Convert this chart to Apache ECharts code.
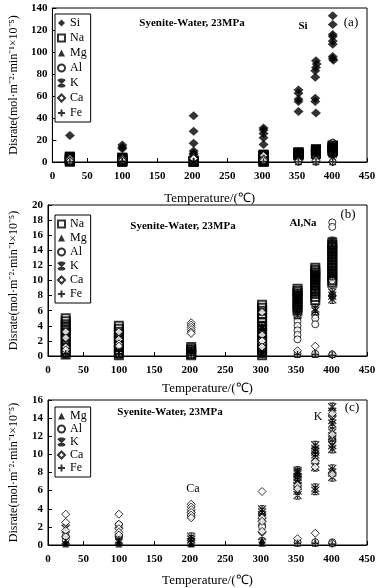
<!DOCTYPE html>
<html><head><meta charset="utf-8">
<script src="https://cdn.jsdelivr.net/npm/echarts@6/dist/echarts.min.js"></script>
<style>html,body{margin:0;padding:0;background:#fff}#c{width:382px;height:588px}</style>
</head><body><div id="c"></div>
<script>
// ---- data (x = temperature ℃, y = dissolution rate ×10^-5) ----
var xTicks = [0, 450, 50];
var yRangeA = [0, 140, 20], yRangeB = [0, 20, 2], yRangeC = [0, 16, 2];
var panelA = 'Si', panelB = 'Al,Na', panelC1 = 'Ca', panelC2 = 'K';
var subtitle = 'Syenite-Water, 23MPa';
var xName = 'Temperature/(℃)';
var yName = 'Disrate(mol·m⁻²·min⁻¹×10⁻⁵)';

var si = [[25,24],[100,15.5],[100,13.5],[100,12],
 [202,42],[202,28],[202,17],[202,10],[202,8],[202,6.5],[202,3.6],[202,1],
 [302,31],[302,29],[302,26],[302,22],[302,16],
 [352,65.5],[352,62.5],[352,57],[352,55],[352,46],
 [377,92],[378,89],[377,86],[376,83],[376,77],[376,58],[376,55],[377,44.5],
 [401,133],[401,125],[401,116],[401,114],[401,110],[401,107],[401,96],[401,94],[402,92.5]];
var na = [[25,5.0],[25,4.6],[25,4.2],[25,3.8],[25,3.4],[25,3.0],[25,2.6],[25,2.2],[25,1.8],[25,1.4],[25,1.0],[25,0.6],[25,0.2],
 [100,4.0],[100,3.6],[100,3.2],[100,2.8],[100,2.4],[100,2.0],[100,1.6],[100,1.2],[100,0.8],[100,0.4],[100,0.1],
 [202,1.2],[202,0.9],[202,0.6],[202,0.3],[202,0.1],
 [302,6.8],[302,6.4],[302,6.0],[302,5.5],[302,5.0],[302,4.5],[302,4.0],[302,3.5],[302,3.0],[302,2.5],[302,2.0],[302,1.5],[302,1.0],[302,0.5],[302,0.1],
 [352,8.9],[352,8.6],[352,8.3],[352,8.0],[352,7.6],[352,7.2],[352,6.8],[352,6.4],[352,6.0],
 [377,11.7],[377,11.4],[377,11.1],[377,10.8],[377,10.5],[377,10.2],[377,9.8],[377,9.4],[377,9.0],[377,8.6],[377,8.2],[377,7.8],[377,7.4],
 [401,15.0],[401,14.7],[401,14.4],[401,14.0],[401,13.6],[401,13.2],[401,12.8],[401,12.4],[401,12.0],[401,11.6],[401,11.2],[401,10.8],[401,10.4],[401,10.0],[401,9.7]];
var mg = [[25,0.1],[25,0.3],[100,0.1],[100,0.3],[202,0.1],[302,0.2],[302,0.5],[352,0.2],[352,0.5],[377,0.2],[377,0.5],[401,0.2],[401,0.4]];
var alB = [[25,0.8],[25,0.4],[100,0.3],[202,0.1],[302,2.0],[302,1.5],
 [352,5.2],[352,4.6],[352,4.0],[352,3.4],[352,2.8],[352,2.2],[352,0.3],
 [377,5.4],[377,5.0],[377,4.2],[377,0.3],[401,17.7],[401,17.1],[401,10.0],[401,8.0],[401,0.2]];
var alC = [[25,1.0],[25,0.6],[100,2.2],[100,0.8],[202,3.6],[202,3.2],[302,2.2],[302,2.0],
 [352,0.3],[377,0.3],[401,11.8],[401,11.5],[401,0.3]];
var k = [[25,0.5],[25,1.8],[100,0.5],[100,1.5],[202,0.9],[202,0.6],[202,0.3],
 [302,3.9],[302,3.6],[302,3.3],[302,3.0],[302,1.0],
 [352,8.2],[352,8.0],[352,7.8],[352,7.5],[352,7.2],[352,6.9],[352,6.5],[352,6.0],[352,5.5],
 [377,11.0],[377,10.6],[377,10.3],[377,10.0],[377,9.7],[377,8.6],[377,6.3],[377,6.0],
 [401,15.2],[401,14.7],[401,13.8],[401,13.4],[401,12.4],[401,12.0],[401,11.0],[401,10.6],[401,8.4],[401,8.0],[401,7.5]];
var caB = [[25,3.2],[25,2.4],[25,1.2],[25,0.8],[100,3.2],[100,2.2],[100,1.6],[100,1.3],
 [202,4.4],[202,4.1],[202,3.8],[202,3.5],[202,3.2],[202,3.0],
 [302,5.8],[302,2.8],[302,2.0],[302,1.2],[352,0.7],[377,1.3],[401,0.2]];
var caC = [[25,3.4],[25,2.5],[25,1.6],[25,0.9],[100,3.4],[100,2.3],[100,1.8],[100,1.4],[100,1.1],
 [202,4.5],[202,4.2],[202,3.9],[202,3.6],[202,3.3],[202,3.0],
 [302,5.9],[302,3.0],[302,2.6],[302,1.5],[352,6.6],[352,6.2],[352,0.7],
 [377,9.2],[377,8.6],[377,1.3],[401,14.5],[401,12.2],[401,7.8],[401,0.2]];
var fe = [[25,0.3],[100,0.3],[100,0.6],[202,0.7],[202,0.4],[302,0.3],[352,0.2],[377,0.2],[401,0.1]];

// ---- styling ----
var serif = 'Liberation Serif';
var kPath = 'path://M0,0L10,10M10,0L0,10M5,0L5,10M2,0L8,0M2,10L8,10';
var plusPath = 'path://M0,5L10,5M5,0L5,10';
var styles = {
  Si: {symbol:'diamond', symbolSize:[10,9], itemStyle:{color:'#000'}},
  Na: {symbol:'rect', symbolSize:8, itemStyle:{color:'rgba(0,0,0,0)', borderColor:'#000', borderWidth:2}},
  Mg: {symbol:'triangle', symbolSize:7, itemStyle:{color:'#000'}},
  Al: {symbol:'circle', symbolSize:7, itemStyle:{color:'#fff', borderColor:'#000', borderWidth:1}},
  K:  {symbol:kPath, symbolSize:8, itemStyle:{color:'rgba(0,0,0,0)', borderColor:'#000', borderWidth:1.3}},
  Ca: {symbol:'diamond', symbolSize:8, itemStyle:{color:'#fff', borderColor:'#000', borderWidth:1}},
  Fe: {symbol:plusPath, symbolSize:7, itemStyle:{color:'rgba(0,0,0,0)', borderColor:'#000', borderWidth:1.6}}
};
function mk(name, data, gi){
  return Object.assign({type:'scatter', name:name, data:data, xAxisIndex:gi, yAxisIndex:gi,
    animation:false, emphasis:{disabled:true}, silent:true}, styles[name]);
}
var grids = [{top:8, height:154}, {top:205, height:151}, {top:400, height:148}];
var xGaps = [30, 26, 29];
function xAxis(i){
  return {gridIndex:i, type:'value', min:xTicks[0], max:xTicks[1], interval:xTicks[2],
    name:xName, nameLocation:'middle', nameGap:xGaps[i],
    nameTextStyle:{fontFamily:serif, fontSize:13, color:'#000'},
    axisLine:{lineStyle:{color:'#000', width:1}}, axisTick:{inside:true, length:4, lineStyle:{color:'#000'}},
    axisLabel:{fontFamily:serif, fontSize:11, fontWeight:'bold', color:'#000', margin:9},
    splitLine:{show:false}};
}
function yAxis(i, r){
  return {gridIndex:i, type:'value', min:r[0], max:r[1], interval:r[2],
    name:yName, nameLocation:'middle', nameGap:28,
    nameTextStyle:{fontFamily:serif, fontSize:12, color:'#000'},
    axisLine:{lineStyle:{color:'#000', width:1}}, axisTick:{inside:true, length:4, lineStyle:{color:'#000'}},
    axisLabel:{fontFamily:serif, fontSize:11, fontWeight:'bold', color:'#000', margin:5},
    splitLine:{show:false}};
}
function legend(top, names, gap){
  return {orient:'vertical', left:55, top:top, data:names, itemWidth:7, itemHeight:7, itemGap:gap,
    padding:[3,4,3,2], borderColor:'#000', borderWidth:1, backgroundColor:'#fff', selectedMode:false,
    textStyle:{fontFamily:serif, fontSize:12, color:'#000'}};
}
function txt(s, x, y, size, bold){
  return {type:'text', x:x, y:y, silent:true, z:100,
    style:{text:s, fill:'#000', align:'center', verticalAlign:'middle',
      font:(bold?'bold ':'')+size+'px "'+serif+'"'}};
}
var option = {
  backgroundColor:'#fff',
  animation:false,
  grid: grids.map(function(g){return {left:42, right:15, top:g.top, height:g.height, show:true, borderColor:'#000', borderWidth:1, backgroundColor:'transparent'};}),
  xAxis:[xAxis(0), xAxis(1), xAxis(2)],
  yAxis:[yAxis(0, yRangeA), yAxis(1, yRangeB), yAxis(2, yRangeC)],
  legend:[
    legend(14, ['Si','Na','Mg','Al','K','Ca','Fe'], 3),
    legend(215, ['Na','Mg','Al','K','Ca','Fe'], 2),
    legend(407, ['Mg','Al','K','Ca','Fe'], 1)
  ],
  series:[
    mk('Si', si, 0), mk('Na', na, 0), mk('Mg', mg, 0), mk('Al', alB, 0), mk('K', k, 0), mk('Ca', caB, 0), mk('Fe', fe, 0),
    mk('Na', na, 1), mk('Mg', mg, 1), mk('Al', alB, 1), mk('K', k, 1), mk('Ca', caB, 1), mk('Fe', fe, 1),
    mk('Mg', mg, 2), mk('Al', alC, 2), mk('K', k, 2), mk('Ca', caC, 2), mk('Fe', fe, 2)
  ],
  graphic:[
    txt(subtitle, 192, 23, 11, true), txt(panelA, 303, 26, 11, true), txt('(a)', 351, 23, 13, false),
    txt(subtitle, 183, 226, 11, true), txt(panelB, 303, 223, 11, true), txt('(b)', 348, 215, 13, false),
    txt(subtitle, 170, 412, 11, true), txt(panelC1, 193, 489, 12, false), txt(panelC2, 318, 417, 12, false), txt('(c)', 352, 408, 13, false)
  ]
};
var chart = echarts.init(document.getElementById('c'), null, {renderer:'canvas'});
chart.setOption(option);
</script></body></html>
